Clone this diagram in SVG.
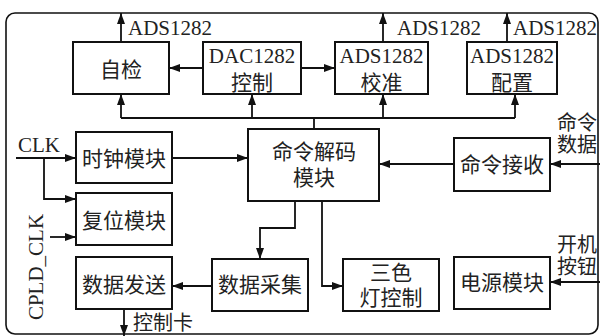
<svg xmlns="http://www.w3.org/2000/svg" width="600" height="336" viewBox="0 0 600 336">
<defs>
<marker id="ah" markerUnits="userSpaceOnUse" markerWidth="11" markerHeight="8" refX="11" refY="4" orient="auto">
<path d="M0,0 L11,4 L0,8 z" fill="#111"/>
</marker>
<style>
.b{fill:#fff;stroke:#111;stroke-width:2}
.c{fill:none;stroke:#111;stroke-width:1.8}
.a{marker-end:url(#ah)}
.zh{font-family:"Noto Sans CJK SC","Noto Sans",sans-serif;font-size:21px;fill:#222}
.zs{font-family:"Noto Sans CJK SC","Noto Sans",sans-serif;font-size:20px;fill:#222}
.en{font-family:"Liberation Serif",serif;font-size:21px;fill:#222}
.m{text-anchor:middle}
</style>
</defs>
<rect width="600" height="336" fill="#fff"/>
<rect x="6" y="13" width="592" height="321" rx="9" fill="none" stroke="#111" stroke-width="1.6"/>

<g id="connectors">
<path class="c a" d="M121,42 V13"/>
<path class="c a" d="M383,42 V13"/>
<path class="c a" d="M507,42 V13"/>
<path class="c a" d="M203,68 H169"/>
<path class="c a" d="M301,68 H335"/>
<path class="c" d="M121,118 H515 M314,129 V118"/>
<path class="c a" d="M121,118 V94"/>
<path class="c a" d="M252,118 V94"/>
<path class="c a" d="M383,118 V94"/>
<path class="c a" d="M515,118 V94"/>
<path class="c a" d="M16,158 H76"/>
<path class="c a" d="M44,158 V199 H76"/>
<path class="c a" d="M172,158 H248"/>
<path class="c a" d="M50,237 H76"/>
<path class="c a" d="M600,164 H550"/>
<path class="c a" d="M454,164 H379"/>
<path class="c a" d="M295,201 V228 H260 V259"/>
<path class="c a" d="M322,201 V286 H343"/>
<path class="c a" d="M212,286 H172"/>
<path class="c a" d="M124,309 V336"/>
<path class="c a" d="M600,282 H550"/>
</g>

<g id="labels">
<text class="en" x="128" y="35">ADS1282</text>
<text class="en" x="397" y="35">ADS1282</text>
<text class="en" x="513" y="35">ADS1282</text>
<text class="en" x="18" y="152">CLK</text>
<text class="en m" transform="translate(43,267) rotate(-90)">CPLD_CLK</text>
<text class="zs" x="133" y="330">控制卡</text>
<text class="zs" x="557" y="130">命令<tspan x="557" dy="22">数据</tspan></text>
<text class="zs" x="557" y="252">开机<tspan x="557" dy="22">按钮</tspan></text>
</g>

<g id="selftest">
<rect class="b" x="73" y="42" width="96" height="52"/>
<text class="zh m" x="121" y="77">自检</text>
</g>
<g id="dac">
<rect class="b" x="203" y="42" width="98" height="52"/>
<text class="en m" x="252" y="63">DAC1282<tspan class="zh" x="252" dy="27">控制</tspan></text>
</g>
<g id="calib">
<rect class="b" x="335" y="42" width="93" height="52"/>
<text class="en m" x="381.5" y="63">ADS1282<tspan class="zh" x="381.5" dy="27">校准</tspan></text>
</g>
<g id="config">
<rect class="b" x="467" y="42" width="90" height="52"/>
<text class="en m" x="512" y="63">ADS1282<tspan class="zh" x="512" dy="27">配置</tspan></text>
</g>
<g id="clock">
<rect class="b" x="76" y="132" width="96" height="51"/>
<text class="zh m" x="124" y="166">时钟模块</text>
</g>
<g id="reset">
<rect class="b" x="76" y="193" width="96" height="52"/>
<text class="zh m" x="124" y="228">复位模块</text>
</g>
<g id="decode">
<rect class="b" x="248" y="129" width="131" height="72"/>
<text class="zh m" x="314" y="159">命令解码<tspan x="314" dy="26">模块</tspan></text>
</g>
<g id="recv">
<rect class="b" x="454" y="138" width="96" height="53"/>
<text class="zh m" x="502" y="172">命令接收</text>
</g>
<g id="send">
<rect class="b" x="76" y="257" width="96" height="52"/>
<text class="zh m" x="124" y="292">数据发送</text>
</g>
<g id="acq">
<rect class="b" x="212" y="259" width="96" height="52"/>
<text class="zh m" x="260" y="292">数据采集</text>
</g>
<g id="led">
<rect class="b" x="343" y="259" width="96" height="52"/>
<text class="zh m" x="391" y="280">三色<tspan x="391" dy="25">灯控制</tspan></text>
</g>
<g id="power">
<rect class="b" x="454" y="257" width="96" height="52"/>
<text class="zh m" x="502" y="290">电源模块</text>
</g>
</svg>
